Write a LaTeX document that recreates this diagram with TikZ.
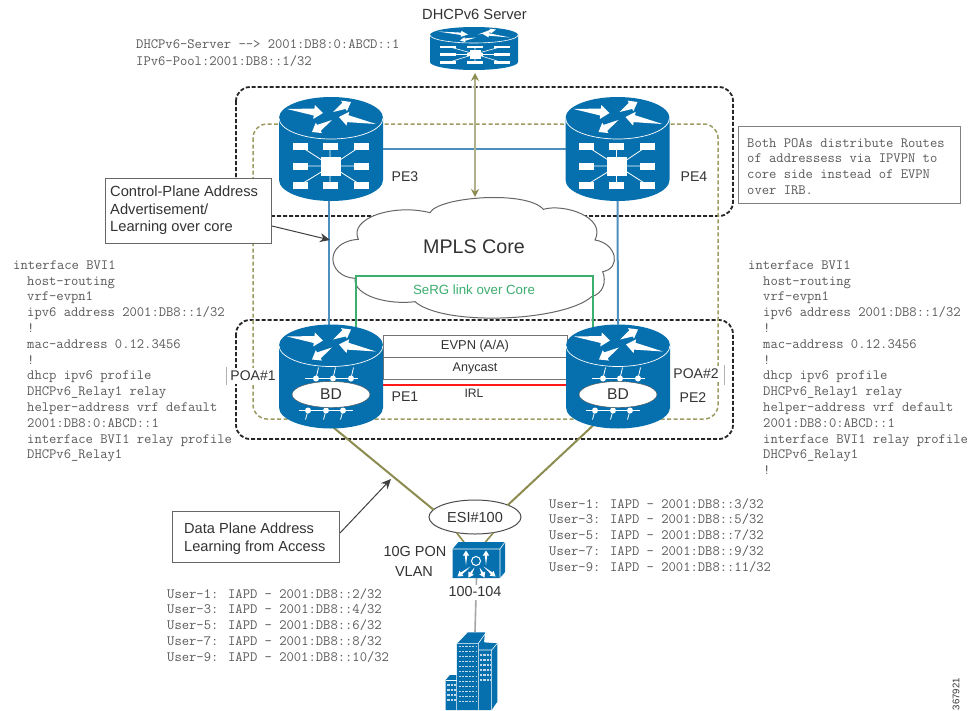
\documentclass[tikz,border=0pt]{standalone}
\usepackage{fontspec}
\setsansfont{Liberation Sans}
\usetikzlibrary{calc,arrows.meta,shapes.geometric}
\definecolor{ciscoblue}{HTML}{0670AE}
\definecolor{linkblue}{HTML}{4F8FBD}
\definecolor{oliveline}{HTML}{8C8C50}
\definecolor{olivedash}{HTML}{9C9C62}
\definecolor{olivepale}{HTML}{B0B08C}
\definecolor{sergreen}{HTML}{3CAE6E}
\definecolor{sanstext}{HTML}{333333}
\definecolor{monotext}{HTML}{5A5A5A}
\tikzset{
  sans/.style={font=\sffamily\fontsize{#1}{17.5}\selectfont,text=sanstext,inner sep=0pt},
  mono/.style={font=\ttfamily\fontsize{14.2}{15.8}\selectfont,text=monotext,inner sep=0pt,anchor=north west,align=left},
  routerbox/.style={minimum width=104pt,minimum height=104pt,inner sep=0pt,outer sep=0pt},
  blackdash/.style={draw=black!85,line width=1.8pt,dash pattern=on 4pt off 2pt,rounded corners=14pt},
  olivebox/.style={draw=olivedash,line width=1.5pt,dash pattern=on 4pt off 2.5pt,rounded corners=14pt},
  bluelink/.style={draw=linkblue,line width=2pt},
  greenlink/.style={draw=sergreen,line width=2pt},
  olivelink/.style={draw=oliveline,line width=2pt},
  callout/.style={draw=black!60,fill=white,line width=1pt},
  graybox/.style={draw=black!55,fill=white,line width=1pt,inner sep=0pt,minimum width=184pt},
  pointer/.style={draw=black!75,line width=1pt,-{Stealth[length=10pt,width=9pt]}}
}
\newcommand{\warrow}[5]{%
  \coordinate (wa) at (#1);\coordinate (wb) at (#2);\coordinate (wc) at ($(wb)!#3pt!(wa)$);
  \fill[white] (wa) -- ($(wc)!#5pt!90:(wb)$) -- ($(wc)!#4pt!90:(wb)$) -- (wb) -- ($(wc)!#4pt!-90:(wb)$) -- ($(wc)!#5pt!-90:(wb)$) -- cycle;}
\newcommand{\cylbody}[1]{%
  \begin{scope}[shift={(#1.center)}]
  \fill[ciscoblue] (-52,-31) -- (-52,31) arc[start angle=180,end angle=360,x radius=52pt,y radius=21pt] -- (52,-31) arc[start angle=0,end angle=180,x radius=52pt,y radius=21pt] -- cycle;
  \draw[white,line width=0.7pt] (-52,-31) arc[start angle=180,end angle=360,x radius=52pt,y radius=21pt];
  \warrow{-44,-40}{-8,-36}{9}{7}{3.5}
  \warrow{2,-37}{20,-47}{8}{6}{3.5}
  \warrow{1,-29}{-19,-17}{8}{6}{3.5}
  \warrow{45,-25}{8,-32}{9}{7}{3.5}
  \end{scope}}
\newcommand{\corerouter}[1]{%
  \cylbody{#1}
  \begin{scope}[shift={(#1.center)}]
  \draw[white,line width=0.8pt] (-31,-3)--(0,17)--(30,36) (30,-3)--(0,17)--(-31,36) (-31,17)--(30,17) (-1,-3)--(-1,36);
  \foreach \px in {-31,-1,30}\foreach \py in {-3,17,36}{\fill[white] (\px-7.5,\py-3.5) rectangle (\px+7.5,\py+3.5);}
  \fill[white] (-10.5,7.5) rectangle (9.5,26.5);
  \end{scope}}
\newcommand{\bdrouter}[2]{%
  \cylbody{#1}
  \begin{scope}[shift={(#1.center)}]
  \draw[white,line width=0.8pt] (-26,2)--(27,2);
  \foreach \px in {-15,2,20}{\draw[white,line width=0.8pt] (\px,2)--(\px+2.5,-9);\fill[white] (\px,2) circle (3pt);}
  \draw[white,line width=0.8pt] (-32,34)--(22,34);
  \foreach \px in {-23,-5,12}{\draw[white,line width=0.8pt] (\px,34)--(\px-2.5,43);\fill[white] (\px,34) circle (3pt);}
  \node[draw=black!70,fill=white,ellipse,minimum width=78pt,minimum height=26pt,inner sep=0pt] (#2) at (0,18) {};
  \node[sans=15.6] (#2text) at (#2.center) {BD};
  \end{scope}}
\begin{document}
\begin{tikzpicture}[x=1pt,y=-1pt]
\useasboundingbox (0,0) rectangle (974,710);
\fill[white] (0,0) rectangle (974,710);
% anchoring nodes
\node[routerbox] (pe3) at (331,149) {};
\node[routerbox] (pe4) at (617.5,149) {};
\node[routerbox] (pe1) at (331,376.5) {};
\node[routerbox] (pe2) at (618,376.5) {};
\node[minimum width=88pt,minimum height=43pt,inner sep=0pt,outer sep=0pt] (server) at (474,48.5) {};
\node[minimum width=47pt,minimum height=29pt,inner sep=0pt,outer sep=0pt] (switch) at (476.5,563.5) {};
\node[minimum width=52pt,minimum height=78pt,inner sep=0pt,outer sep=0pt] (building) at (475,671) {};
\coordinate (cloudtop) at (475,197);
\coordinate (cloudleft) at (330,240);
\coordinate (accesspoint) at (391,479);
% dashed domains
\draw[blackdash] (236,87) rectangle (733,216);
\draw[blackdash] (236,320) rectangle (733,439);
\draw[olivebox] (253,124) rectangle (718,419);
% PE core links
\draw[bluelink] (pe3.east) -- (pe4.west);
\draw[bluelink] ($(pe3.south)+(-2,-3)$) -- ($(pe1.north)+(-2,3)$);
\draw[bluelink] (pe4.south) -- (pe2.north);
% cloud
\begin{scope}[shift={(320,190)},scale=0.33333]
\draw[black!60,fill=white,line width=1pt] (115,148)
  .. controls (85,85) and (220,40) .. (330,68)
  .. controls (355,20) and (620,0) .. (670,58)
  .. controls (730,40) and (860,80) .. (825,150)
  .. controls (890,160) and (905,235) .. (848,245)
  .. controls (860,275) and (850,310) .. (815,320)
  .. controls (730,395) and (370,410) .. (285,335)
  .. controls (210,345) and (100,320) .. (105,265)
  .. controls (20,260) and (10,155) .. (115,148) -- cycle;
\end{scope}
\node[sans=19.7] (mpls) at (474,247) {MPLS Core};
% SeRG
\draw[greenlink] ($(pe1.north)+(25,3)$) |- (475,276) -| ($(pe2.north)+(-25.5,3)$);
\node[sans=13.3,text=sergreen] (serg) at (474,289.5) {SeRG link over Core};
% server link
\draw[draw=olivepale,line width=2pt,{Stealth[length=8pt,width=8pt,color=oliveline]}-{Stealth[length=8pt,width=8pt,color=oliveline]}] (server.south) ++(1,3) -- (cloudtop);
% between POAs
\node[graybox,minimum height=22pt] (evpn) at (475,346) {};
\node[sans=12.9] (evpntext) at (evpn.center) {EVPN (A/A)};
\node[graybox,minimum height=22pt] (anycast) at (475,368) {};
\node[sans=12.6] (anycasttext) at (anycast.center) {Anycast};
\draw[draw=red!90,line width=1.5pt] ($(pe1.east)+(0,8.5)$) -- ($(pe2.west)+(0,8.5)$);
\node[sans=12.2] (irl) at (474,393) {IRL};
% access links
\node[draw=black!70,fill=white,ellipse,line width=1pt,minimum width=92pt,minimum height=34pt,inner sep=0pt,outer sep=0pt] (esi) at (475,517) {};
\node[sans=14.5] (esitext) at (esi.center) {ESI\#100};
\draw[olivelink] ($(pe1.south)+(0,-3)$) -- (esi.170);
\draw[olivelink] ($(pe2.south)+(-25,-3)$) -- (esi.20);
\draw[olivelink,line width=1.6pt] (esi.220) -- ($(switch.north)+(-9.5,-3)$);
\draw[olivelink,line width=1.6pt] (esi.320) -- ($(switch.north)+(5.5,-3)$);
\draw[draw=black!35,line width=1.6pt] (switch.south) -- (building.north);
\node[sans=14.4,fill=white,minimum height=15pt] (vlanrange) at (475,592) {100-104};
\node[sans=14.5] (pon) at (415,551) {10G PON};
\node[sans=14.5] (vlan) at (414,572) {VLAN};
% routers
\corerouter{pe3}
\corerouter{pe4}
\bdrouter{pe1}{bd1}
\bdrouter{pe2}{bd2}
% router labels
\node[sans=14.1] (lpe3) at (405,177) {PE3};
\node[sans=14.1] (lpe4) at (694,177) {PE4};
\node[sans=14.1] (lpe1) at (405,397) {PE1};
\node[sans=14.1] (lpe2) at (693,398) {PE2};
\node[sans=14,fill=white,inner xsep=1pt,minimum height=16pt] (poa1) at (253,376) {POA\#1};
\node[sans=14,fill=white,inner xsep=1pt,minimum height=16pt] (poa2) at (696,374) {POA\#2};
\draw[black!30,line width=0.6pt] (226,367) -- (226,385);
\draw[black!30,line width=0.6pt] (724,365) -- (724,385);
% DHCP server
\begin{scope}[shift={(server.center)}]
\fill[ciscoblue] (-44,-13.5) -- (-44,13.5) arc[start angle=180,end angle=360,x radius=44pt,y radius=8pt] -- (44,-13.5) arc[start angle=0,end angle=180,x radius=44pt,y radius=8pt] -- cycle;
\draw[white,line width=0.6pt] (-44,-13.5) arc[start angle=180,end angle=360,x radius=44pt,y radius=8pt];
\warrow{-36,-17}{-6,-14}{7}{3}{1.2}
\warrow{4,-14}{22,-19}{6}{2.5}{1.2}
\warrow{2,-11}{-14,-8}{5}{2.5}{1.2}
\warrow{36,-11}{8,-15}{7}{3}{1.2}
\draw[white,line width=0.6pt] (-26,-2)--(1,5.5)--(28,14) (28,-2)--(1,5.5)--(-26,14) (-26,6)--(28,6) (1,-2)--(1,14);
\foreach \px in {-26,1,28}\foreach \py in {-1.5,6,14}{\fill[white] (\px-8,\py-1.3) rectangle (\px+8,\py+1.3);}
\fill[white] (-4.5,1) rectangle (6.5,10.5);
\end{scope}
\node[sans=14.7] (servertext) at (474.5,14) {DHCPv6 Server};
% access switch
\begin{scope}[shift={(switch.center)}]
\fill[ciscoblue] (-24,-14.5) -- (-18,-21.5) -- (28.5,-21.5) -- (28.5,8.5) -- (23.5,14.5) -- (-24,14.5) -- cycle;
\draw[white,line width=0.6pt] (-24,-14.5) -- (23.5,-14.5) -- (28.5,-21.5) (23.5,-14.5) -- (23.5,14.5);
\draw[white,line width=1pt] (-0.5,-2.5) circle (4.5pt);
\warrow{-10.5,2}{-10.5,-13}{5}{3.2}{1.2}
\warrow{9.5,2}{9.5,-13}{5}{3.2}{1.2}
\warrow{-6,3}{-19,13}{5}{3.2}{1.2}
\warrow{-2,4}{-8,14}{5}{3.2}{1.2}
\warrow{3,4}{8,14}{5}{3.2}{1.2}
\warrow{7,3}{19,13}{5}{3.2}{1.2}
\end{scope}
% building
\begin{scope}[shift={(380,480)},scale=0.33333]
\fill[ciscoblue] (197,690) -- (197,600) -- (210,585) -- (230,585) -- (230,490) -- (262,457) -- (315,457) -- (312,487) -- (352,490) -- (352,665) -- (335,690) -- cycle;
\draw[white,line width=0.6pt] (230,690) -- (230,490) -- (295,490) -- (295,690) (230,490) -- (262,457) (295,490) -- (315,462);
\draw[white,line width=0.6pt] (295,510) -- (335,510) -- (335,690) (335,510) -- (352,490);
\draw[white,line width=0.6pt] (197,600) -- (230,600);
\foreach \wy in {500,515,530,545,560,575,590,605,620,635,650,665}{\draw[white!75!ciscoblue,line width=1.1pt,dash pattern=on 2.2pt off 1.2pt] (236,\wy) -- (292,\wy);}
\foreach \wy in {525,540,555,570,585,600}{\draw[white!75!ciscoblue,line width=1.1pt,dash pattern=on 2.2pt off 1.2pt] (300,\wy) -- (332,\wy);}
\foreach \wy in {615,630,645,660}{\draw[white!75!ciscoblue,line width=1.1pt,dash pattern=on 2.2pt off 1.2pt] (202,\wy) -- (228,\wy);}
\end{scope}
% callouts
\node[callout,anchor=north west,minimum width=166pt,minimum height=65pt,inner sep=0pt] (ctrl) at (105,178) {};
\node[sans=14.7,anchor=north west,align=left] (ctrltext) at (110,186) {Control-Plane Address\\Advertisement/\\Learning over core};
\draw[pointer] (ctrl.east |- 0,226) -- (cloudleft);
\node[callout,anchor=north west,minimum width=167pt,minimum height=51pt,inner sep=0pt] (data) at (172,511) {};
\node[sans=14.6,anchor=north west,align=left] (datatext) at (184,523) {Data Plane Address\\Learning from Access};
\draw[pointer] (data.east |- 0,533) -- (accesspoint);
\node[callout,draw=black!50,anchor=north west,minimum width=222pt,minimum height=77pt,inner sep=0pt] (note) at (738,126) {};
\node[mono,anchor=north west] (notetext) at (747,138) {Both POAs distribute Routes\\of addressess via IPVPN to\\core side instead of EVPN\\over IRB.};
% config text
\node[mono] (cfgtop) at (136,39.5) {DHCPv6-Server -{}-> 2001:DB8:0:ABCD::1\\[1.2pt]IPv6-Pool:2001:DB8::1/32};
\node[mono] (lhead) at (13,260.5) {interface BVI1};
\node[mono] (lbody) at (27,276.3) {host-routing\\vrf-evpn1\\ipv6 address 2001:DB8::1/32\\!\\mac-address 0.12.3456\\!\\dhcp ipv6 profile\\DHCPv6\_Relay1 relay\\helper-address vrf default\\2001:DB8:0:ABCD::1\\interface BVI1 relay profile\\DHCPv6\_Relay1};
\node[mono] (rhead) at (748,260.5) {interface BVI1};
\node[mono] (rbody) at (763,276.3) {host-routing\\vrf-evpn1\\ipv6 address 2001:DB8::1/32\\!\\mac-address 0.12.3456\\!\\dhcp ipv6 profile\\DHCPv6\_Relay1 relay\\helper-address vrf default\\2001:DB8:0:ABCD::1\\interface BVI1 relay profile\\DHCPv6\_Relay1\\!};
\node[mono] (uleft) at (167,588) {User-1: IAPD - 2001:DB8::2/32\\User-3: IAPD - 2001:DB8::4/32\\User-5: IAPD - 2001:DB8::6/32\\User-7: IAPD - 2001:DB8::8/32\\User-9: IAPD - 2001:DB8::10/32};
\node[mono] (uright) at (549,498) {User-1: IAPD - 2001:DB8::3/32\\User-3: IAPD - 2001:DB8::5/32\\User-5: IAPD - 2001:DB8::7/32\\User-7: IAPD - 2001:DB8::9/32\\User-9: IAPD - 2001:DB8::11/32};
\node[sans=9.6,rotate=90] (fignum) at (956,694) {367921};
\end{tikzpicture}
\end{document}
